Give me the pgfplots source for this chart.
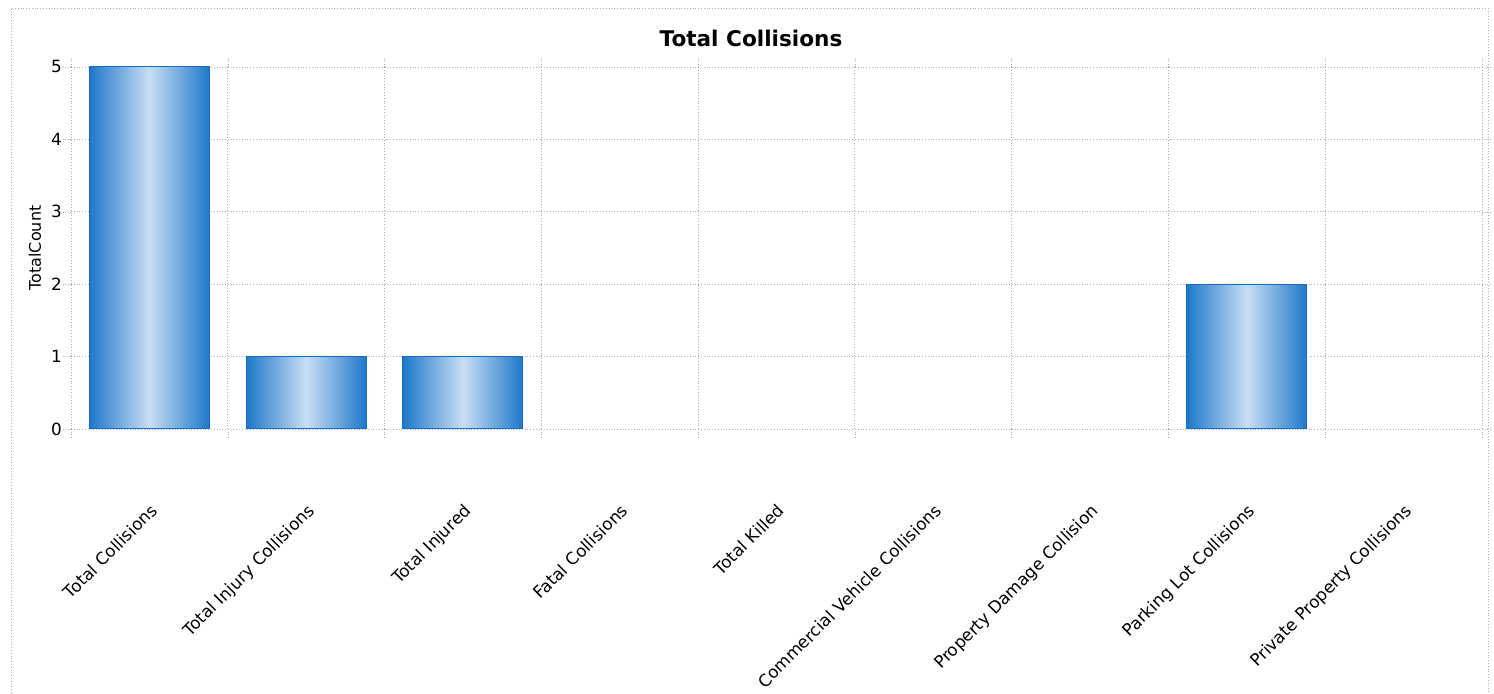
\documentclass[border=0pt]{standalone}
\usepackage{pgfplots}
\pgfplotsset{compat=1.18}
\usepackage{fontspec}
\setmainfont{DejaVu Sans}

\definecolor{baredge}{RGB}{22,108,192}
\definecolor{barside}{RGB}{30,120,200}
\definecolor{barmid}{RGB}{200,222,245}
\definecolor{gridgray}{RGB}{175,175,175}

\pgfplotsset{
  cylbar/.style={ybar, bar width=60pt, bar shift=0pt, draw=baredge, line width=0.5pt,
    shading=axis, shading angle=90,
    left color=barside, right color=barside, middle color=barmid},
}

\begin{document}
\begin{tikzpicture}
\useasboundingbox (0,0) rectangle (747pt,347pt);
% outer chart frame
\draw[gridgray, densely dotted] (5.5pt,-5pt) rectangle (744pt,343pt);
\node[font=\bfseries\fontsize{10.8}{13}\selectfont] at (375.5pt,328pt) {Total Collisions};

\begin{axis}[
  at={(35.5pt,132.5pt)}, anchor=south west,
  scale only axis,
  width=705.5pt, height=181pt,
  xmin=-0.5, xmax=8.5,
  ymin=0, ymax=5,
  ytick={0,1,2,3,4,5},
  xtick={-0.5,0.5,...,8.5},
  xticklabels={},
  extra x ticks={0,1,2,3,4,5,6,7,8},
  extra x tick labels={Total Collisions,Total Injury Collisions,Total Injured,Fatal Collisions,Total Killed,Commercial Vehicle Collisions,Property Damage Collision,Parking Lot Collisions,Private Property Collisions},
  extra x tick style={grid=none, major tick length=0pt},
  xticklabel style={xshift=0pt, yshift=-32pt, rotate=45, anchor=north east},
  yticklabel style={xshift=3pt},
  grid=major,
  major grid style={gridgray, densely dotted},
  axis line style={draw=none},
  tick style={gridgray, densely dotted},
  tick align=outside,
  major tick length=4pt,
  ticklabel style={font=\fontsize{8.4}{10}\selectfont},
  /pgf/number format/assume math mode=true,
  ylabel={TotalCount},
  ylabel style={at={(axis description cs:-0.0255,0.5)}, anchor=center, font=\fontsize{8}{9}\selectfont},
  unbounded coords=discard,
  y filter/.expression={y==0 ? nan : y},
]
% one plot per category so each bar gets its own shading
\addplot[cylbar] coordinates {(0,5)};
\addplot[cylbar] coordinates {(1,1)};
\addplot[cylbar] coordinates {(2,1)};
\addplot[cylbar] coordinates {(3,0)};
\addplot[cylbar] coordinates {(4,0)};
\addplot[cylbar] coordinates {(5,0)};
\addplot[cylbar] coordinates {(6,0)};
\addplot[cylbar] coordinates {(7,2)};
\addplot[cylbar] coordinates {(8,0)};
\end{axis}
\end{tikzpicture}
\end{document}
